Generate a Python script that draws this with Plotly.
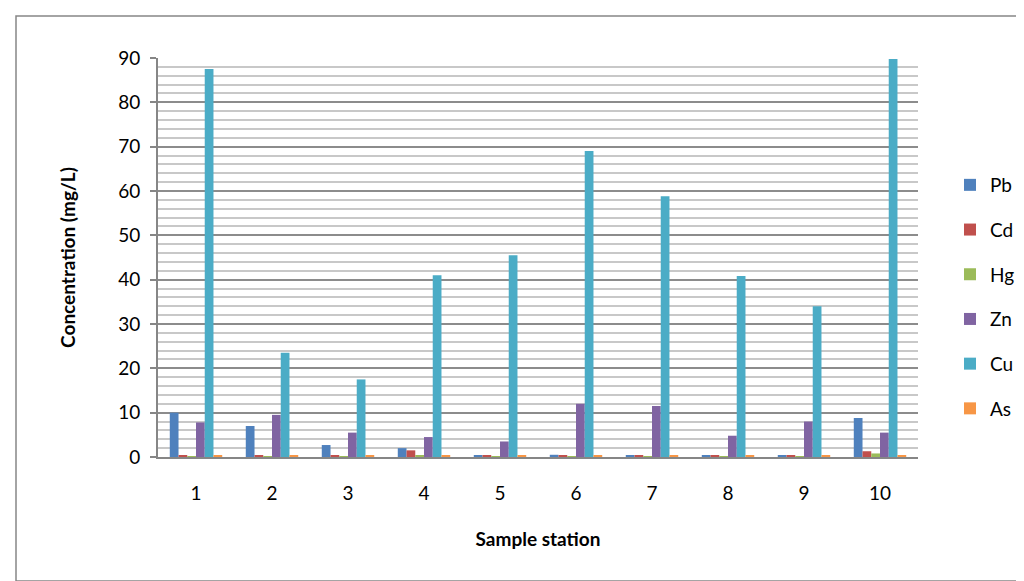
import plotly.graph_objects as go

stations = ["1", "2", "3", "4", "5", "6", "7", "8", "9", "10"]
pb = [10.0, 7.0, 2.7, 2.0, 0.3, 0.5, 0.4, 0.4, 0.3, 8.8]
cd = [0.4, 0.3, 0.4, 1.5, 0.3, 0.3, 0.3, 0.3, 0.4, 1.3]
hg = [0.2, 0.2, 0.2, 0.3, 0.2, 0.2, 0.2, 0.2, 0.2, 0.8]
zn = [7.8, 9.5, 5.5, 4.5, 3.5, 12.0, 11.5, 4.8, 8.0, 5.5]
cu = [87.5, 23.5, 17.5, 41.0, 45.5, 69.0, 58.8, 40.8, 34.0, 89.8]
as_ = [0.3, 0.4, 0.4, 0.3, 0.4, 0.4, 0.3, 0.3, 0.3, 0.3]

series = [
    ("Pb", pb, "#4F81BD"),
    ("Cd", cd, "#C0504D"),
    ("Hg", hg, "#9BBB59"),
    ("Zn", zn, "#8064A2"),
    ("Cu", cu, "#4BACC6"),
    ("As", as_, "#F79646"),
]

fig = go.Figure()
for name, vals, col in series:
    fig.add_trace(go.Bar(
        x=stations, y=vals, name=name, legendgroup=name,
        marker=dict(color=col, line=dict(color=col, width=0)),
    ))

W, H = 1024, 581
ml, mr, mt, mb = 150, 114, 50, 132
pw, ph = W - ml - mr, H - mt - mb

def px(x):
    return (x - ml) / pw

def py(y):
    return (H - mb - y) / ph

fig.update_layout(
    width=W, height=H,
    margin=dict(l=ml, r=mr, t=mt, b=mb, autoexpand=False),
    paper_bgcolor="white", plot_bgcolor="white",
    barmode="group", bargap=0.31, bargroupgap=0,
    font=dict(family="Lato, 'Open Sans', sans-serif", size=19, color="#000000"),
    legend=dict(
        x=px(942), y=py(158), xanchor="left", yanchor="top",
        font=dict(size=19), itemwidth=30, tracegroupgap=17,
        bgcolor="rgba(0,0,0,0)",
    ),
    xaxis=dict(
        showline=True, linecolor="#868686", linewidth=2,
        ticks="", ticklabelstandoff=18,
        title=dict(text="<b>Sample station</b>", font=dict(size=19), standoff=30),
    ),
    yaxis=dict(
        range=[0, 90], dtick=10, tick0=0,
        showline=True, linecolor="#868686", linewidth=2,
        ticks="outside", ticklen=6, tickcolor="#868686", tickwidth=2,
        showgrid=True, gridcolor="#8C8C8C", gridwidth=2,
        minor=dict(dtick=2, showgrid=True, gridcolor="#C8C8C8", gridwidth=2),
        zeroline=False,
        ticklabelstandoff=6,
        title=dict(text="<b>Concentration (mg/L)</b>", font=dict(size=19), standoff=38),
    ),
    shapes=[
        dict(type="rect", xref="paper", yref="paper",
             x0=px(8), x1=px(1016), y0=py(573), y1=py(8),
             line=dict(color="#868686", width=1.5), fillcolor="rgba(0,0,0,0)",
             layer="below"),
    ],
)

fig.write_html("out.html")
